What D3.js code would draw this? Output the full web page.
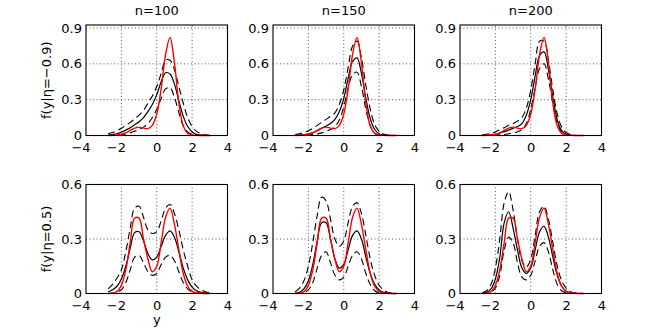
<!DOCTYPE html>
<html>
<head>
<meta charset="utf-8">
<script src="https://cdn.jsdelivr.net/npm/d3@7"></script>
<style>
  html, body { margin: 0; padding: 0; background: #fff; }
  svg { display: block; }
  text { font-family: "DejaVu Sans", sans-serif; font-size: 13px; fill: #000; }
</style>
</head>
<body>
<svg id="chart" width="664" height="332"></svg>
<script>
// ---------- data ----------
const xGrid = [-2.75,-2.5,-2.25,-2,-1.75,-1.5,-1.25,-1,-0.75,-0.5,-0.25,0,0.25,0.5,0.75,1,1.25,1.5,1.75,2,2.25,2.5,2.75,3];

const sampleSizes = ["n=100", "n=150", "n=200"];
const rowLabels = ["f(y|\u03B7=\u22120.9)", "f(y|\u03B7=0.5)"];
const xTicks = [-4, -2, 0, 2, 4];
const yTicksTop = [0, 0.3, 0.6, 0.9];
const yTicksBottom = [0, 0.3, 0.6];

// true densities (red)
const trueTop = [0,0.001,0.004,0.01, 0.022,0.042,0.062,0.07, 0.062,0.058,0.085,0.18, 0.39,0.68,0.82,0.61, 0.27,0.08,0.018,0.004, 0.001,0,0,0];
const trueBottom = [0,0.002,0.01,0.045, 0.13,0.28,0.415,0.415, 0.30,0.19,0.12,0.15, 0.28,0.42,0.47,0.38, 0.24,0.11,0.04,0.012, 0.003,0.001,0,0];

// eta = -0.9 row: estimate (solid), upper and lower bands (dashed)
const mean100Top = [0.003,0.008,0.015,0.028, 0.045,0.065,0.09,0.115, 0.15,0.2,0.26,0.34, 0.45,0.525,0.515,0.43, 0.29,0.16,0.075,0.03, 0.01,0.003,0.001,0];
const upper100Top = [0.015,0.025,0.04,0.06, 0.085,0.11,0.14,0.17, 0.21,0.27,0.33,0.41, 0.52,0.63,0.63,0.55, 0.41,0.27,0.15,0.075, 0.035,0.015,0.006,0.002];
const lower100Top = [0,0.001,0.003,0.007, 0.013,0.022,0.035,0.05, 0.07,0.1,0.15,0.22, 0.31,0.39,0.40,0.32, 0.19,0.08,0.03,0.01, 0.003,0.001,0,0];

const mean150Top = [0.001,0.003,0.007,0.014, 0.025,0.04,0.06,0.08, 0.1,0.135,0.2,0.31, 0.48,0.62,0.65,0.52, 0.31,0.14,0.05,0.015, 0.004,0.001,0,0];
const upper150Top = [0.008,0.015,0.025,0.04, 0.06,0.085,0.11,0.135, 0.16,0.19,0.26,0.38, 0.57,0.75,0.79,0.65, 0.42,0.22,0.09,0.035, 0.012,0.004,0.001,0];
const lower150Top = [0,0,0.001,0.003, 0.007,0.013,0.022,0.035, 0.05,0.075,0.13,0.24, 0.4,0.51,0.53,0.41, 0.22,0.08,0.02,0.005, 0.001,0,0,0];

const mean200Top = [0,0.002,0.005,0.01, 0.02,0.032,0.045,0.06, 0.075,0.1,0.17,0.3, 0.5,0.67,0.70,0.55, 0.32,0.13,0.04,0.01, 0.002,0,0,0];
const upper200Top = [0.005,0.01,0.018,0.03, 0.048,0.065,0.085,0.1, 0.12,0.15,0.23,0.38, 0.6,0.79,0.79,0.63, 0.38,0.18,0.07,0.025, 0.008,0.002,0,0];
const lower200Top = [0,0,0.001,0.002, 0.005,0.009,0.015,0.022, 0.032,0.05,0.1,0.22, 0.4,0.56,0.60,0.47, 0.27,0.1,0.03,0.008, 0.002,0,0,0];

// eta = 0.5 row
const mean100Bottom = [0.008,0.02,0.04,0.08, 0.15,0.25,0.335,0.34, 0.29,0.22,0.185,0.2, 0.26,0.32,0.345,0.31, 0.23,0.14,0.075,0.035, 0.015,0.006,0.002,0];
const upper100Bottom = [0.025,0.05,0.085,0.13, 0.23,0.36,0.47,0.48, 0.42,0.35,0.33,0.34, 0.4,0.47,0.49,0.44, 0.35,0.24,0.15,0.075, 0.04,0.02,0.01,0.004];
const lower100Bottom = [0,0.002,0.008,0.02, 0.06,0.13,0.2,0.21, 0.17,0.12,0.1,0.11, 0.16,0.2,0.21,0.18, 0.12,0.06,0.025,0.008, 0.002,0,0,0];

const mean150Bottom = [0.002,0.007,0.025,0.07, 0.16,0.29,0.39,0.39, 0.30,0.19,0.14,0.16, 0.24,0.32,0.345,0.30, 0.2,0.11,0.05,0.02, 0.007,0.002,0,0];
const upper150Bottom = [0.01,0.03,0.07,0.15, 0.28,0.43,0.53,0.51, 0.41,0.3,0.26,0.29, 0.39,0.48,0.50,0.44, 0.32,0.19,0.1,0.045, 0.018,0.006,0.002,0];
const lower150Bottom = [0,0.001,0.005,0.02, 0.06,0.14,0.21,0.23, 0.17,0.1,0.075,0.09, 0.15,0.21,0.23,0.19, 0.11,0.05,0.015,0.004, 0.001,0,0,0];

const mean200Bottom = [0.002,0.006,0.025,0.08, 0.2,0.39,0.45,0.36, 0.24,0.14,0.11,0.14, 0.24,0.34,0.37,0.31, 0.2,0.1,0.04,0.013, 0.004,0.001,0,0];
const upper200Bottom = [0.004,0.015,0.05,0.14, 0.3,0.5,0.56,0.46, 0.3,0.18,0.145,0.19, 0.32,0.45,0.48,0.41, 0.28,0.15,0.07,0.03, 0.01,0.003,0.001,0];
const lower200Bottom = [0,0.001,0.006,0.03, 0.1,0.24,0.31,0.28, 0.17,0.09,0.075,0.1, 0.18,0.26,0.28,0.23, 0.13,0.05,0.015,0.004, 0.001,0,0,0];

// ---------- layout ----------
const svg = d3.select("#chart");
const colLeft = [86, 273, 460];
const panelW = 141.5;
const rowTop = [25, 184.5];
const rowBottom = [135.5, 293.5];
const rowYMax = [0.925, 0.6];

const rows = [
  { truth: trueTop, yTicks: yTicksTop,
    panels: [[mean100Top, upper100Top, lower100Top], [mean150Top, upper150Top, lower150Top], [mean200Top, upper200Top, lower200Top]] },
  { truth: trueBottom, yTicks: yTicksBottom,
    panels: [[mean100Bottom, upper100Bottom, lower100Bottom], [mean150Bottom, upper150Bottom, lower150Bottom], [mean200Bottom, upper200Bottom, lower200Bottom]] }
];

rows.forEach((row, r) => {
  row.panels.forEach((series, c) => {
    const x = d3.scaleLinear().domain([-4, 4]).range([colLeft[c], colLeft[c] + panelW]);
    const y = d3.scaleLinear().domain([0, rowYMax[r]]).range([rowBottom[r], rowTop[r]]);
    const g = svg.append("g");

    // grid
    const grid = g.append("g").attr("stroke", "#333").attr("stroke-width", 0.8).attr("stroke-dasharray", "1,2.5");
    xTicks.filter(t => t > -4 && t < 4).forEach(t => {
      grid.append("line").attr("x1", x(t)).attr("x2", x(t)).attr("y1", y.range()[0]).attr("y2", y.range()[1]);
    });
    row.yTicks.filter(t => t > 0 && t < rowYMax[r]).forEach(t => {
      grid.append("line").attr("x1", x.range()[0]).attr("x2", x.range()[1]).attr("y1", y(t)).attr("y2", y(t));
    });

    // axes labels
    const ax = g.append("g").attr("transform", `translate(0,${rowBottom[r]})`)
      .call(d3.axisBottom(x).tickValues(xTicks).tickSize(0).tickPadding(7).tickFormat(d3.format("d")));
    const ay = g.append("g").attr("transform", `translate(${colLeft[c]},0)`)
      .call(d3.axisLeft(y).tickValues(row.yTicks).tickSize(0).tickPadding(4).tickFormat(d => d === 0 ? "0" : d3.format(".1f")(d)));
    [ax, ay].forEach(a => {
      a.select(".domain").remove();
      a.selectAll("text").attr("font-family", "DejaVu Sans, sans-serif").attr("font-size", 13).attr("fill", "#000");
    });
    // digits centred on the tick, minus sign hanging to the left
    ax.selectAll(".tick text").attr("dx", d => d < 0 ? "-0.42em" : 0);

    // curves
    const line = d3.line().x((d, i) => x(xGrid[i])).y(d => y(d)).curve(d3.curveCatmullRom.alpha(0.5));
    const [mean, upper, lower] = series;
    [upper, lower].forEach(s => {
      g.append("path").datum(s).attr("d", line).attr("fill", "none")
        .attr("stroke", "#000").attr("stroke-width", 1.1).attr("stroke-dasharray", "7,4");
    });
    g.append("path").datum(mean).attr("d", line).attr("fill", "none")
      .attr("stroke", "#000").attr("stroke-width", 1.2);
    g.append("path").datum(row.truth).attr("d", line).attr("fill", "none")
      .attr("stroke", "#ff0000").attr("stroke-width", 1.4);

    // box
    g.append("rect").attr("x", colLeft[c]).attr("y", rowTop[r])
      .attr("width", panelW).attr("height", rowBottom[r] - rowTop[r])
      .attr("fill", "none").attr("stroke", "#000").attr("stroke-width", 1.1);

    // titles
    if (r === 0) {
      g.append("text").attr("x", colLeft[c] + panelW / 2).attr("y", 14.7)
        .attr("text-anchor", "middle").text(sampleSizes[c]);
    }
    if (c === 0) {
      const cy = (rowTop[r] + rowBottom[r]) / 2;
      g.append("text").attr("transform", `translate(50.5,${cy}) rotate(-90)`)
        .attr("text-anchor", "middle").text(rowLabels[r]);
    }
    if (r === 1 && c === 0) {
      g.append("text").attr("x", colLeft[c] + panelW / 2).attr("y", 323.8)
        .attr("text-anchor", "middle").text("y");
    }
  });
});
</script>
</body>
</html>
